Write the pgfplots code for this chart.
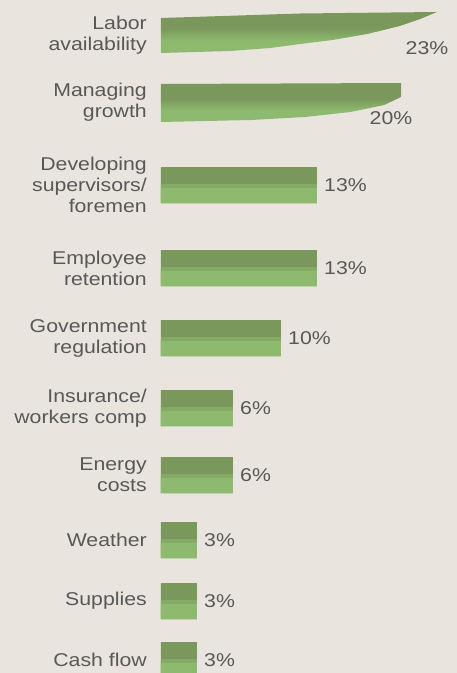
\documentclass[border=0pt]{standalone}
\usepackage{fontspec}
\setmainfont{Liberation Sans}[FakeStretch=1.15]
\usepackage{pgfplots}
\pgfplotsset{compat=1.18}
\usepackage{pgfplotstable}
\definecolor{bg}{RGB}{233,229,222}
\definecolor{bardark}{RGB}{122,152,92}
\definecolor{barmid}{RGB}{132,170,101}
\definecolor{barlight}{RGB}{141,186,110}
\definecolor{txt}{RGB}{88,88,88}
\pgfdeclareverticalshading{barshade}{100bp}{color(0bp)=(barlight); color(40bp)=(barlight); color(55bp)=(bardark); color(94bp)=(bardark); color(100bp)=(bardark!85!black)}
\newcommand\labfont{\fontsize{18.5bp}{21bp}\selectfont}
% y = vertical position of bar centre (px from top), v = share in %
\pgfplotstableread{
y v
185 13
268 13
338 10
408 6
475 6
540 3
601 3
660 3
}\rectbars
\begin{document}
\begin{tikzpicture}
\fill[bg] (-161bp,0) rectangle (296bp,673bp);
\useasboundingbox (-161bp,0) rectangle (296bp,673bp);
\begin{axis}[
  at={(0,0)}, anchor=south west,
  scale only axis, width=296bp, height=673bp,
  xmin=0, xmax=24.6667, ymin=0, ymax=673, y dir=reverse,
  axis line style={draw=none}, tick style={draw=none},
  xtick=\empty,
  /pgf/number format/assume math mode=true,
  ytick={35,102,185,268,338,408,475,540,601,660},
  yticklabels={{Labor\\availability},{Managing\\growth},{Developing\\supervisors/\\foremen},{Employee\\retention},{Government\\regulation},{Insurance/\\workers comp},{Energy\\costs},{Weather},{Supplies},{Cash flow}},
  yticklabel style={align=right, font=\labfont, text=txt, inner sep=0pt, anchor=east, xshift=-14bp},
]
% tapered bars (Labor availability 23%, Managing growth 20%)
\addplot[draw=none, shading=barshade] coordinates {
 (0,18) (11.6,13.5) (23,12) (21.6,19) (19.9,26) (17.2,34) (14.3,40) (11.6,44) (9.1,48) (5.75,51) (0,53) (0,18)};
\addplot[draw=none, shading=barshade] coordinates {
 (0,84) (20,83) (20,97) (18.6,105) (15.8,112) (12,117) (7.5,120) (0,122) (0,84)};
\addplot[draw=none, nodes near coords={\pgfmathprintnumber{\pgfplotspointmeta}\%}, point meta=explicit,
  nodes near coords style={anchor=center, xshift=-10bp, font=\labfont, text=txt, inner sep=0pt}]
  coordinates {(23,48) [23] (20,118) [20]};
% rectangular bars: dark full bar, then lighter lower band
\addplot[xbar, bar width=36bp, bar shift=0pt, draw=none, fill=bardark,
  nodes near coords={\pgfmathprintnumber{\pgfplotspointmeta}\%}, point meta=x,
  nodes near coords style={anchor=west, xshift=7bp, font=\labfont, text=txt, inner sep=0pt}]
  table[x=v, y=y] {\rectbars};
\addplot[xbar, bar width=19bp, bar shift=-8.5bp, draw=none, fill=barmid]
  table[x=v, y=y] {\rectbars};
\addplot[xbar, bar width=15bp, bar shift=-10.5bp, draw=none, fill=barlight]
  table[x=v, y=y] {\rectbars};
\end{axis}
\end{tikzpicture}
\end{document}
